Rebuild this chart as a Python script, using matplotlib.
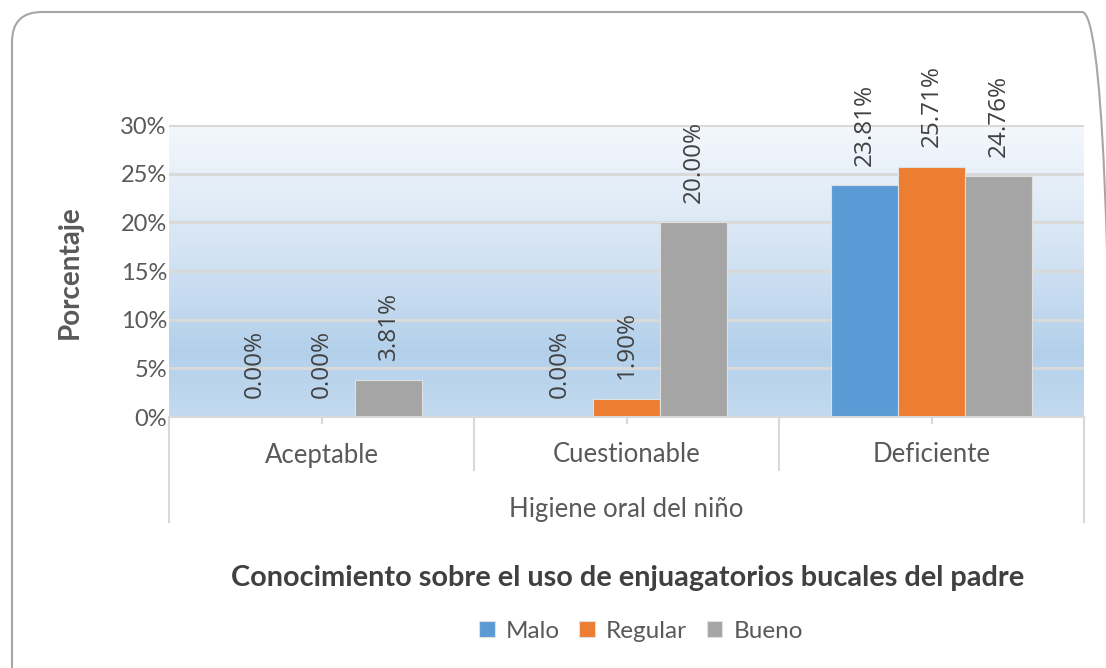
import matplotlib
matplotlib.use("Agg")
import matplotlib.pyplot as plt
import numpy as np
from matplotlib.colors import LinearSegmentedColormap
from matplotlib.patches import FancyBboxPatch
from matplotlib.lines import Line2D

categories = ["Aceptable", "Cuestionable", "Deficiente"]
series_names = ["Malo", "Regular", "Bueno"]
malo = [0.0, 0.0, 23.81]
regular = [0.0, 1.90, 25.71]
bueno = [3.81, 20.00, 24.76]
yticks = [0, 5, 10, 15, 20, 25, 30]
colors = ["#5b9bd5", "#ed7d31", "#a5a5a5"]
xlabel = "Higiene oral del niño"
ylabel = "Porcentaje"
title = "Conocimiento sobre el uso de enjuagatorios bucales del padre"

W, H = 1106, 668
fig = plt.figure(figsize=(W / 100, H / 100), dpi=100)
FONT = "Lato"
TXT = "#595959"

# outer rounded border (in inches so rounding is circular)
border = FancyBboxPatch((0.12, -0.4), 11.12 - 0.12, (H - 12) / 100 + 0.4,
                        boxstyle="round,pad=0,rounding_size=0.3",
                        transform=fig.dpi_scale_trans, facecolor="none",
                        edgecolor="#a6a6a6", linewidth=1.5, zorder=-1, clip_on=False)
fig.patches.append(border)

x0, x1 = 169, 1084
ytop, ybot = 125, 417
ax = fig.add_axes([x0 / W, 1 - ybot / H, (x1 - x0) / W, (ybot - ytop) / H])
ax.set_facecolor("none")

# gradient background
cmap = LinearSegmentedColormap.from_list(
    "g", [(0, "#f4f8fd"), (0.45, "#d3e3f3"), (0.78, "#b3d0eb"), (1.0, "#c3daef")])
grad = np.linspace(0, 1, 256).reshape(-1, 1)
ax.imshow(grad, aspect="auto", cmap=cmap, extent=[-0.5, 2.5, 0, 30],
          origin="upper", zorder=0, interpolation="bilinear")

n = len(categories)
bw = 0.22
xs = np.arange(n)
data = [malo, regular, bueno]
for i, (vals, c, name) in enumerate(zip(data, colors, series_names)):
    pos = xs + (i - 1) * bw
    ax.bar(pos, vals, width=bw, color=c, edgecolor="#e0e0e0", linewidth=0.8,
           zorder=3, label=name)
    for p, v in zip(pos, vals):
        ax.annotate(f"{v:.2f}%", (p, v), xytext=(0, 14), textcoords="offset points",
                    rotation=90, ha="center", va="bottom",
                    fontsize=17.5, family="Open Sans", color="#404040", zorder=4,
                    annotation_clip=False)

ax.set_xlim(-0.5, 2.5)
ax.set_ylim(0, 30)
ax.set_yticks(yticks)
ax.set_yticklabels([f"{t}%" for t in yticks], fontsize=17, family=FONT, color=TXT)
ax.tick_params(axis="y", length=0, pad=1.5)
ax.yaxis.grid(True, color="#d9d9d9", linewidth=2.2, zorder=1)
ax.set_axisbelow(True)
for s in ["top", "right", "left"]:
    ax.spines[s].set_visible(False)
ax.spines["bottom"].set_color("#d9d9d9")
ax.spines["bottom"].set_linewidth(1.5)
ax.spines["bottom"].set_zorder(5)

ax.set_xticks(xs)
ax.set_xticklabels([])
ax.tick_params(axis="x", length=5, color="#d9d9d9", width=1.5)

# category labels and separators below the axis
tr = ax.get_xaxis_transform()
for xb in [-0.5, 0.5, 1.5, 2.5]:
    yend = -(522 - ybot) / (ybot - ytop) if xb in (-0.5, 2.5) else -(470 - ybot) / (ybot - ytop)
    ax.add_line(Line2D([xb, xb], [0, yend], transform=tr, color="#d9d9d9",
                       linewidth=1.5, clip_on=False, zorder=5))
for x, c in zip(xs, categories):
    ax.text(x, -(455 - ybot) / (ybot - ytop), c, transform=tr, ha="center",
            va="center", fontsize=18.5, family=FONT, color=TXT)
ax.text(1.0, -(509 - ybot) / (ybot - ytop), xlabel, transform=tr, ha="center",
        va="center", fontsize=18.5, family=FONT, color=TXT)

fig.text(70 / W, 1 - 272 / H, ylabel, rotation=90, ha="center", va="center",
         fontsize=20, family=FONT, fontweight="bold", color=TXT)
fig.text(628 / W, 1 - 578 / H, title, ha="center", va="center",
         fontsize=20.8, family=FONT, fontweight="bold", color="#404040")

handles, labels = ax.get_legend_handles_labels()
leg = fig.legend(handles, labels, loc="center", bbox_to_anchor=(641 / W, 1 - 631 / H),
                 ncol=3, frameon=False, prop={"family": FONT, "size": 17.5},
                 handlelength=0.65, handleheight=0.65, handletextpad=0.45,
                 columnspacing=0.8, labelcolor=TXT)

fig.savefig("out.png", dpi=100)
